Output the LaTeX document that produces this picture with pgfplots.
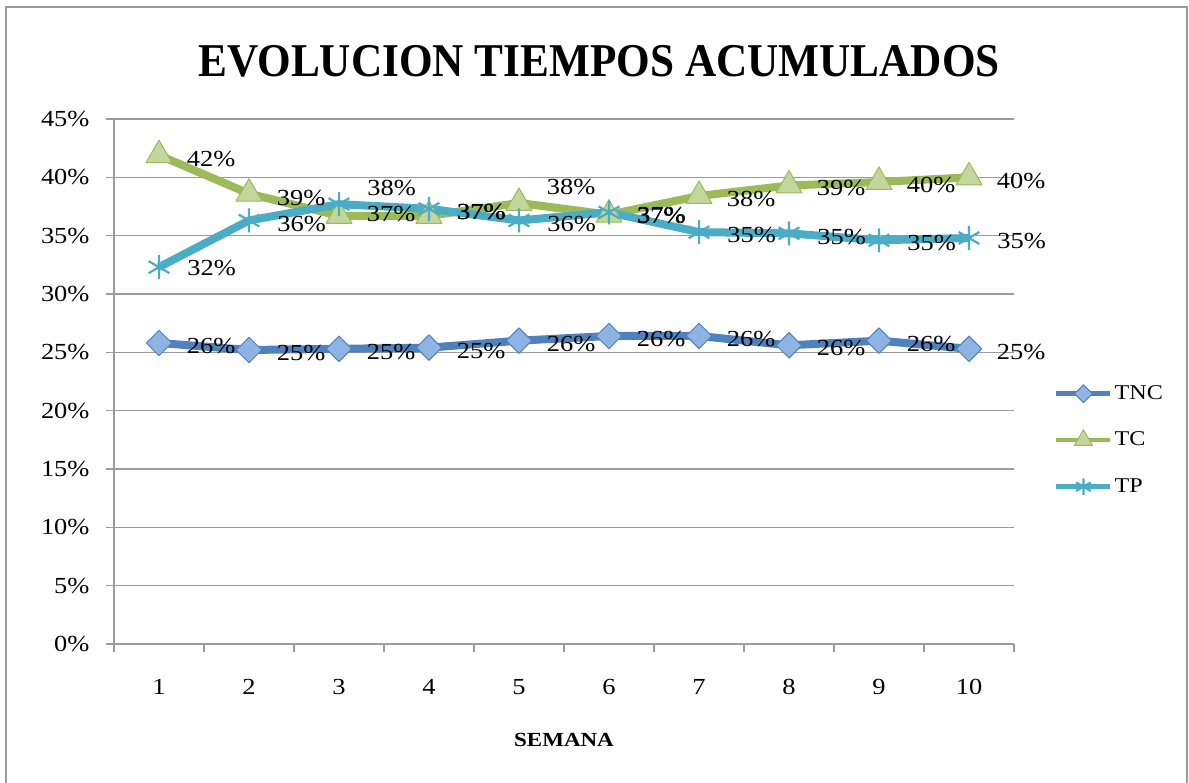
\documentclass[border=0pt]{standalone}
\usepackage{pgfplots}
\pgfplotsset{compat=1.18}
\usepackage{fontspec}
\setmainfont[FakeStretch=1.15]{Liberation Serif}
\newfontfamily\titlefont[FakeStretch=0.92]{Liberation Serif}
\definecolor{tnc}{RGB}{79,129,189}
\definecolor{tncf}{RGB}{141,180,226}
\definecolor{tc}{RGB}{155,187,89}
\definecolor{tcf}{RGB}{195,214,155}
\definecolor{tp}{RGB}{75,172,198}
\definecolor{gridc}{RGB}{155,155,155}
\pgfplotstableread{
x y lab dy
1 25.8 26 -3
2 25.2 25 -3
3 25.3 25 -3
4 25.4 25 -3
5 26.0 26 -3
6 26.4 26 -3
7 26.4 26 -3
8 25.6 26 -3
9 26.0 26 -3
10 25.3 25 -3
}\tnc
\pgfplotstableread{
x y lab dy
1 41.9 42 -4
2 38.6 39 -4
3 36.7 37 2
4 36.7 37 4
5 37.8 38 16
6 36.8 37 -1
7 38.4 38 -3
8 39.3 39 -3
9 39.6 40 -3
10 40.0 40 -4
}\tc
\pgfplotstableread{
x y lab dy
1 32.3 32 -1
2 36.3 36 -4
3 37.7 38 16
4 37.3 37 -3
5 36.3 36 -4
6 37.0 37 -3
7 35.3 35 -3
8 35.2 35 -4
9 34.6 35 -3
10 34.8 35 -3
}\tp
\begin{document}
\begin{tikzpicture}[x=1bp,y=1bp]
\useasboundingbox (0,0) rectangle (1189,783);
\draw[gridc, line width=1.5bp] (6,-10) rectangle (1187,776);
\node[font=\titlefont\bfseries\fontsize{47bp}{50bp}\selectfont, anchor=base, inner sep=0pt] at (599,706) {EVOLUCION TIEMPOS ACUMULADOS};
\begin{axis}[
  at={(114bp,139bp)}, anchor=south west,
  scale only axis, width=900bp, height=525bp,
  xmin=0.5, xmax=10.5, ymin=0, ymax=45,
  clip=false,
  axis lines=left,
  axis line style={-, gridc, line width=1.5bp},
  xtick={1,...,10}, ytick={0,5,...,45},
  xtick style={draw=none},
  ytick style={draw=gridc, line width=1.5bp},
  tick align=outside, major tick length=8bp,
  extra x ticks={0.5,1.5,...,10.5},
  extra x tick labels={},
  extra x tick style={xtick style={draw=gridc, line width=1.5bp}, xmajorgrids=false},
  ymajorgrids=true,
  major grid style={gridc, line width=1.5bp},
  ticklabel style={font=\fontsize{23bp}{27bp}\selectfont},
  /pgf/number format/assume math mode=true,
  yticklabel={\pgfmathprintnumber{\tick}\%},
  yticklabel style={xshift=-13bp},
  xticklabel style={yshift=-24bp},
  xlabel={\bfseries SEMANA},
  xlabel style={font=\fontsize{20bp}{24bp}\selectfont, at={(axis description cs:0.5,-0.183)}, anchor=center},
  legend style={draw=none, fill=none, inner sep=0pt, at={(axis description cs:1.0444,0.499)}, anchor=north west,
    font=\fontsize{21bp}{24bp}\selectfont, row sep=23.5bp,
    nodes={text height=15bp, text depth=4bp, inner sep=2bp}},
  legend cell align=left,
  legend image code/.code={\draw[line width=4.5bp, every mark/.append style={scale=0.7}, mark repeat=2, mark phase=2] plot coordinates {(0bp,0bp) (27bp,0bp) (54bp,0bp)};},
  point meta=explicit symbolic,
  visualization depends on={\thisrow{dy} \as \dy},
  nodes near coords={\pgfplotspointmeta\%},
  every node near coord/.append style={anchor=west, xshift=24bp, yshift=\dy bp, font=\fontsize{23bp}{27bp}\selectfont, text=black},
]
\addplot[tnc, line width=8bp, line join=round, mark=square*, mark size=9bp,
  mark options={rotate=45, fill=tncf, draw=tnc, line width=1bp}] table[x=x, y=y, meta=lab] {\tnc};
\addlegendentry{TNC}
\addplot[tc, line width=8bp, line join=round, mark=triangle*, mark size=15bp,
  mark options={fill=tcf, draw=tc, line width=1bp}] table[x=x, y=y, meta=lab] {\tc};
\addlegendentry{TC}
\addplot[tp, line width=8bp, line join=round, mark=asterisk, mark size=12bp,
  mark options={draw=tp, line width=2.2bp}] table[x=x, y=y, meta=lab] {\tp};
\addlegendentry{TP}
\end{axis}
\end{tikzpicture}
\end{document}
